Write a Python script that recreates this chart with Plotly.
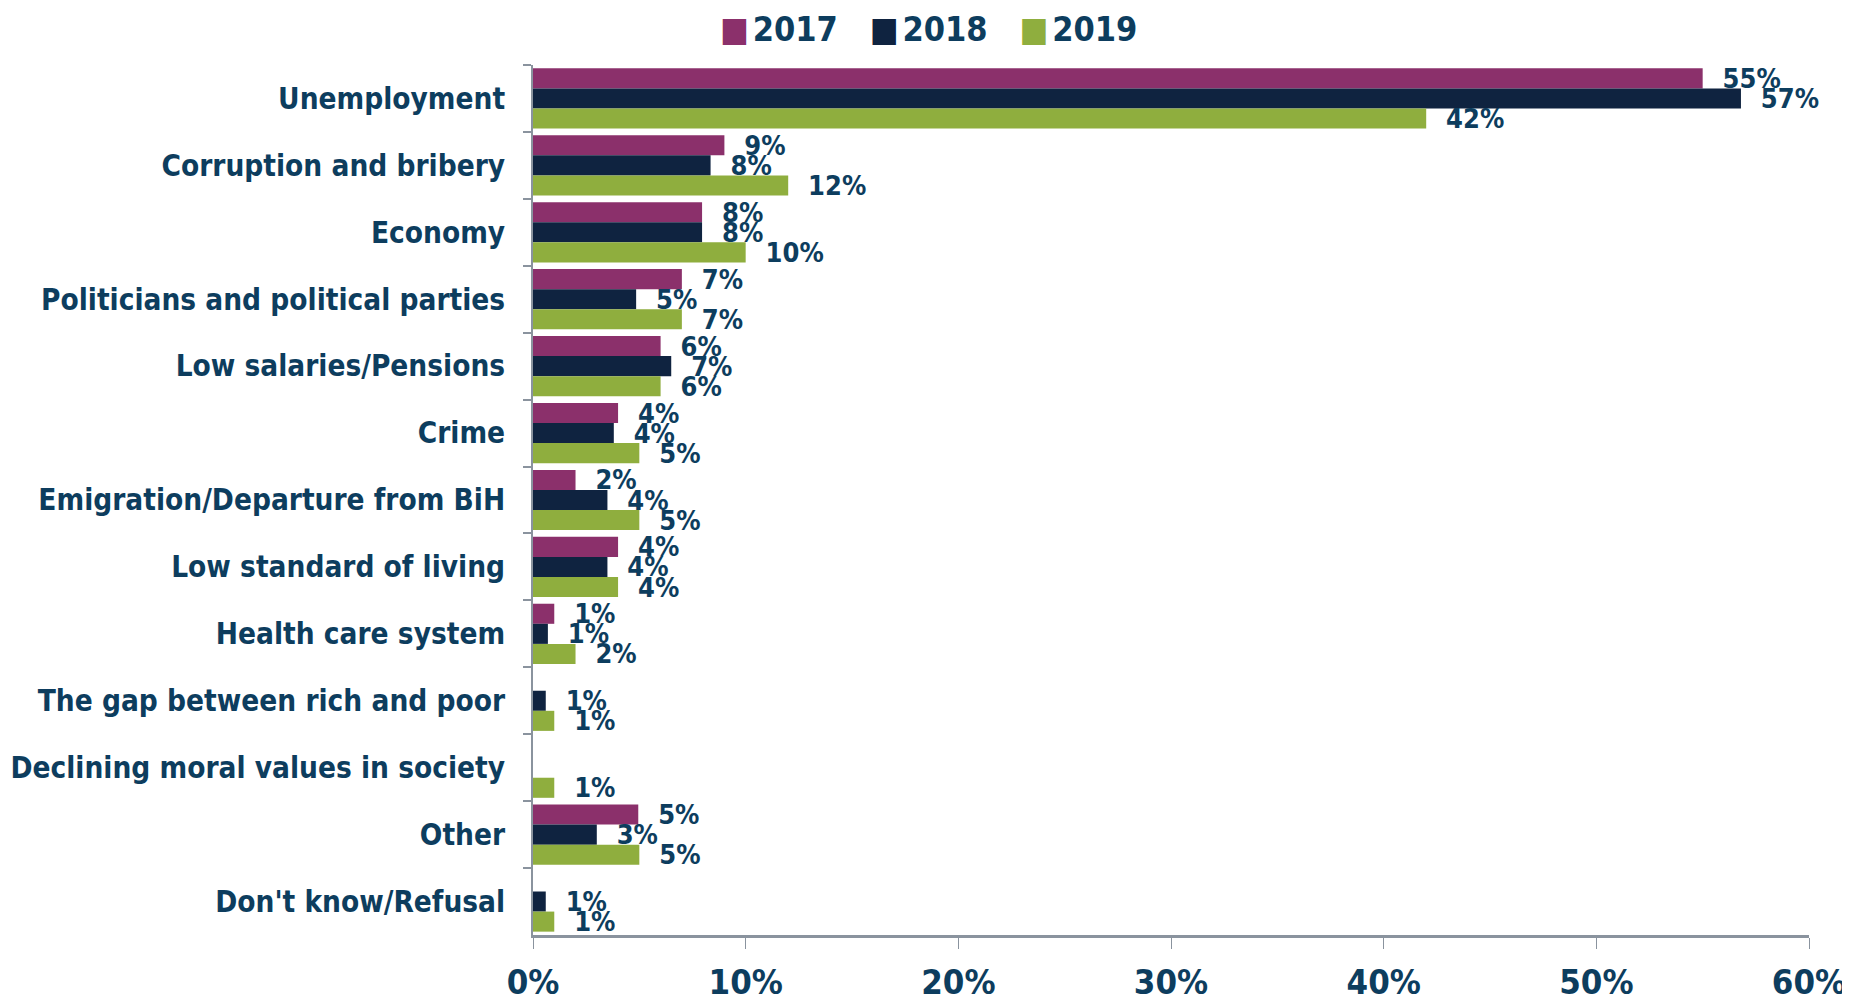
import plotly.graph_objects as go

# 설문: 가장 중요한 문제 (연도별 응답 비율, %)
CATEGORIES = [
    "Unemployment",
    "Corruption and bribery",
    "Economy",
    "Politicians and political parties",
    "Low salaries/Pensions",
    "Crime",
    "Emigration/Departure from BiH",
    "Low standard of living",
    "Health care system",
    "The gap between rich and poor",
    "Declining moral values in society",
    "Other",
    "Don't know/Refusal",
]
YEARS = ["2017", "2018", "2019"]

V_2017 = [55.0, 9.0, 7.95, 7.0, 6.0, 4.0, 2.0, 4.0, 1.0, None, None, 4.95, None]
V_2018 = [56.8, 8.35, 7.95, 4.85, 6.5, 3.8, 3.5, 3.5, 0.7, 0.6, None, 3.0, 0.6]
V_2019 = [42.0, 12.0, 10.0, 7.0, 6.0, 5.0, 5.0, 4.0, 2.0, 1.0, 1.0, 5.0, 1.0]

X_TICKS = [0, 10, 20, 30, 40, 50, 60]

COLORS = {"2017": "#8B306B", "2018": "#0F2340", "2019": "#8FAE3E"}
TEXT_COLOR = "#0D3D5E"
AXIS_COLOR = "#8A939E"
FONT = "Tahoma, 'DejaVu Sans Condensed', 'Noto Sans', sans-serif"


def pct_label(v):
    # 반올림(0.5 올림) 후 % 라벨, 값 없으면 빈칸
    return "" if v is None else f"  {int(v + 0.5)}%"


fig = go.Figure()
for year, vals in zip(YEARS, [V_2017, V_2018, V_2019]):
    fig.add_trace(go.Bar(
        y=CATEGORIES, x=vals, name=year, orientation="h",
        marker_color=COLORS[year], marker_line_width=0,
        text=[pct_label(v) for v in vals], textposition="outside",
        constraintext="none", cliponaxis=False,
        textfont=dict(size=27, color=TEXT_COLOR, family=FONT, weight="bold"),
        showlegend=False,
    ))

# 범례: 큰 사각형 마커를 위해 텍스트 주석으로 구성
legend_html = "&nbsp;&nbsp;&nbsp;".join(
    f"<span style='color:{COLORS[y]}'>■</span><span style='font-size:12px'> </span>{y}"
    for y in YEARS
)
fig.add_annotation(
    text=legend_html, xref="paper", yref="paper", x=0.31, y=1.0,
    xanchor="center", yanchor="bottom", yshift=14, showarrow=False,
    font=dict(size=34, color=TEXT_COLOR, family=FONT, weight="bold"),
)

fig.update_layout(
    width=1850, height=1000,
    barmode="group", bargap=0.1, bargroupgap=0,
    plot_bgcolor="white", paper_bgcolor="white",
    font=dict(family=FONT, color=TEXT_COLOR, weight="bold"),
    margin=dict(l=525, r=49, t=57, b=73, autoexpand=False),
    showlegend=False,
)
fig.update_xaxes(
    range=[0, 60], tickvals=X_TICKS,
    ticktext=[f"{t}%" for t in X_TICKS],
    showgrid=False, zeroline=False,
    showline=True, linecolor=AXIS_COLOR, linewidth=3,
    ticks="outside", ticklen=11, tickcolor=AXIS_COLOR, tickwidth=1,
    tickfont=dict(size=34.5, color=TEXT_COLOR, weight="bold"),
    ticklabelstandoff=4,
)
fig.update_yaxes(
    autorange="reversed", showgrid=False,
    showline=True, linecolor=AXIS_COLOR, linewidth=2,
    ticks="outside", ticklen=8, tickcolor=AXIS_COLOR, tickwidth=2,
    tickson="boundaries",
    tickfont=dict(size=29.5, color=TEXT_COLOR, weight="bold"),
    ticklabelstandoff=20,
)

fig.write_html("out.html")
